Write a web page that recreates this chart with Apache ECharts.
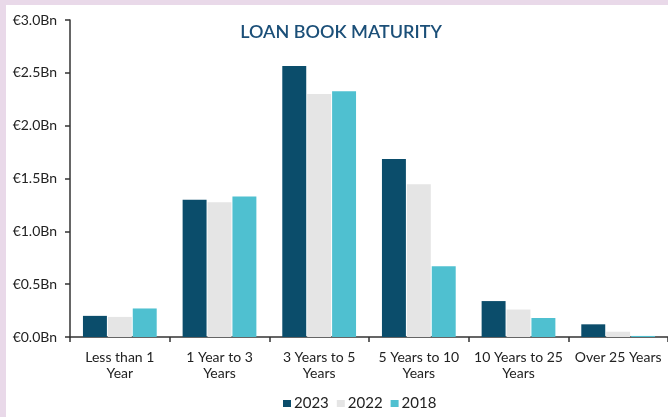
<!DOCTYPE html>
<html>
<head>
<meta charset="utf-8">
<script src="https://cdn.jsdelivr.net/npm/echarts@6/dist/echarts.min.js"></script>
<style>
  html, body { margin: 0; padding: 0; background: #e9d9e9; width: 668px; height: 417px; overflow: hidden; }
  #chart { position: absolute; left: 6px; top: 5px; width: 662px; height: 412px; background: #ffffff; }
</style>
</head>
<body>
<div id="chart"></div>
<script>
const categories = [
  "Less than 1\nYear",
  "1 Year to 3\nYears",
  "3 Years to 5\nYears",
  "5 Years to 10\nYears",
  "10 Years to 25\nYears",
  "Over 25 Years"
];
const values2023 = [0.20, 1.30, 2.565, 1.685, 0.34, 0.12];
const values2022 = [0.19, 1.275, 2.30, 1.445, 0.26, 0.05];
const values2018 = [0.27, 1.33, 2.325, 0.67, 0.18, 0.01];
const yTicks = [0, 0.5, 1.0, 1.5, 2.0, 2.5, 3.0];

const chart = echarts.init(document.getElementById("chart"));
const font = "Lato, 'Noto Sans', sans-serif";

function bar(name, data, color) {
  return {
    name: name,
    type: "bar",
    data: data,
    barGap: "4%",
    barCategoryGap: "26%",
    itemStyle: { color: color },
    animation: false
  };
}

chart.setOption({
  title: {
    text: "LOAN BOOK MATURITY",
    left: 330,
    top: 13,
    textAlign: "center",
    textStyle: { color: "#1b4f78", fontFamily: font, fontSize: 18, fontWeight: 600 }
  },
  legend: {
    bottom: 1,
    left: 272,
    icon: "rect",
    itemWidth: 8,
    itemHeight: 7,
    itemGap: 8,
    textStyle: { color: "#222", fontFamily: font, fontSize: 15, padding: [0, 0, 0, -2] },
    data: ["2023", "2022", "2018"]
  },
  grid: { left: 64, top: 15, width: 602, height: 317 },
  xAxis: {
    type: "category",
    data: categories,
    axisLine: { lineStyle: { color: "#333", width: 1.5 } },
    axisTick: { show: true, length: 5, lineStyle: { color: "#333", width: 1.5 } },
    axisLabel: { color: "#222", fontFamily: font, fontSize: 14, lineHeight: 16, margin: 12, interval: 0 }
  },
  yAxis: {
    type: "value",
    min: 0,
    max: 3.0,
    interval: 0.5,
    splitLine: { show: false },
    axisLine: { show: true, lineStyle: { color: "#333", width: 1.5 } },
    axisTick: { show: true, length: 5, lineStyle: { color: "#333", width: 1.5 } },
    axisLabel: {
      color: "#222",
      fontFamily: font,
      fontSize: 14,
      margin: 13,
      formatter: function (v) {
        return yTicks.indexOf(v) >= 0 ? "€" + v.toFixed(1) + "Bn" : "";
      }
    }
  },
  series: [
    bar("2023", values2023, "#0b4d6b"),
    bar("2022", values2022, "#e5e5e5"),
    bar("2018", values2018, "#4fc0d0")
  ]
});
</script>
</body>
</html>
